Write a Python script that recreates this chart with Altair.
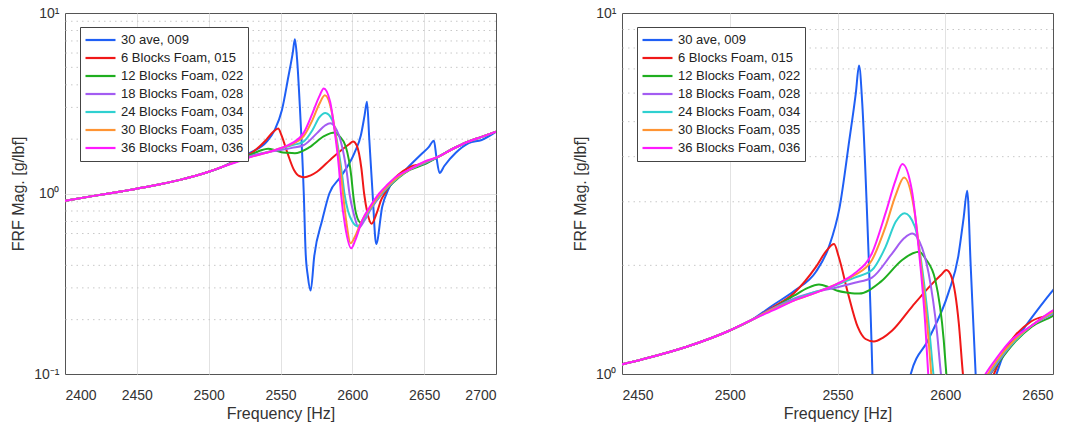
import altair as alt
import pandas as pd

SERIES = ["30 ave, 009", "6 Blocks Foam, 015", "12 Blocks Foam, 022",
          "18 Blocks Foam, 028", "24 Blocks Foam, 034", "30 Blocks Foam, 035",
          "36 Blocks Foam, 036"]
COLORS = ["#1f5ff5", "#f01818", "#1fae1f", "#a35cf2", "#2fd0d0", "#ff9433", "#ff1aff"]

# common low-frequency part (all curves overlap)
BASE_F = [2400, 2420, 2440, 2460, 2480, 2500, 2510]
BASE_V = [0.91, 0.97, 1.03, 1.10, 1.19, 1.32, 1.41]
# common high-frequency tail
TAIL_F = [2660, 2670, 2680, 2690, 2700]
TAIL_V = [1.60, 1.77, 1.93, 2.06, 2.20]

F_009 = [2520, 2530, 2540, 2546, 2551, 2555.5, 2558.5, 2560, 2561.5, 2563.5, 2566.2, 2567.5,
         2569, 2571, 2573.5, 2579, 2584, 2592, 2601.5, 2606, 2608.5, 2610.2, 2611.8, 2614.1,
         2616.6, 2620.8, 2625, 2637, 2648.7, 2653, 2656.8, 2658.5, 2660.7, 2664, 2672, 2681,
         2690, 2700]
V_009 = [1.55, 1.70, 1.92, 2.25, 2.9, 4.45, 6.0, 7.15, 5.6, 3.0, 1.0, 0.47,
         0.35, 0.29, 0.45, 0.71, 1.0, 1.24, 1.68, 2.11, 2.7, 3.22, 2.0, 1.0,
         0.525, 0.845, 1.05, 1.35, 1.67, 1.8, 1.96, 1.6, 1.30, 1.42, 1.68, 1.9,
         1.98, 2.2]

F_015 = [2520, 2530, 2540, 2545, 2548.4, 2550.5, 2554.8, 2559.4, 2563, 2566.9, 2571, 2575.4,
         2584.7, 2594, 2598, 2600.5, 2603, 2606.3, 2608.2, 2610.5, 2613.4, 2617, 2620, 2622.6,
         2627, 2632, 2640, 2650]
V_015 = [1.53, 1.68, 1.98, 2.2, 2.29, 2.12, 1.68, 1.35, 1.25, 1.23, 1.26, 1.32,
         1.54, 1.78, 1.88, 1.94, 1.85, 1.38, 1.0, 0.78, 0.68, 0.78, 0.92, 1.0,
         1.15, 1.27, 1.40, 1.47]

F_022 = [2520, 2530, 2536, 2541.4, 2546, 2550, 2555, 2560, 2570, 2580, 2585, 2587.8, 2591,
         2595.4, 2599.3, 2600.5, 2602.5, 2605.8, 2609, 2614, 2620, 2625, 2632, 2640, 2650]
V_022 = [1.52, 1.65, 1.73, 1.77, 1.74, 1.70, 1.68, 1.67, 1.80, 2.07, 2.16, 2.18, 2.08,
         1.82, 1.24, 1.0, 0.78, 0.69, 0.74, 0.86, 0.98, 1.08, 1.22, 1.35, 1.45]

F_028 = [2520, 2530, 2540, 2550, 2558, 2566, 2575.4, 2581, 2584.7, 2588, 2592.3, 2596.2,
         2598, 2601, 2604.5, 2608, 2613, 2619, 2625, 2632, 2640, 2650]
V_028 = [1.52, 1.62, 1.69, 1.74, 1.79, 1.85, 2.16, 2.38, 2.45, 2.33, 1.9, 1.3,
         1.0, 0.77, 0.645, 0.7, 0.82, 0.96, 1.09, 1.23, 1.36, 1.47]

F_034 = [2520, 2530, 2540, 2550, 2558, 2566, 2572.3, 2577, 2581.2, 2585.9, 2590.7, 2593,
         2594.5, 2597, 2600, 2603.4, 2607, 2612, 2618, 2624, 2632, 2640, 2650]
V_034 = [1.51, 1.61, 1.69, 1.77, 1.85, 1.94, 2.25, 2.64, 2.79, 2.56, 1.68, 1.25,
         1.0, 0.8, 0.7, 0.66, 0.7, 0.81, 0.95, 1.08, 1.23, 1.36, 1.48]

F_035 = [2520, 2530, 2540, 2550, 2558, 2566, 2572.3, 2577, 2580.9, 2585.4, 2589.2, 2592,
         2593.5, 2596, 2598.8, 2601.5, 2606, 2612, 2618, 2624, 2632, 2640, 2650]
V_035 = [1.51, 1.6, 1.68, 1.78, 1.88, 2.07, 2.56, 3.13, 3.5, 2.9, 1.9, 1.3,
         1.0, 0.68, 0.53, 0.57, 0.69, 0.82, 0.96, 1.09, 1.24, 1.36, 1.49]

F_036 = [2520, 2530, 2540, 2550, 2558, 2566, 2572.3, 2577, 2580.1, 2584.5, 2587.6, 2590.7,
         2592.1, 2595, 2599.3, 2602, 2606.9, 2612, 2618.7, 2624, 2630, 2640, 2650]
V_036 = [1.5, 1.6, 1.68, 1.78, 1.9, 2.16, 2.79, 3.45, 3.82, 3.23, 2.25, 1.38,
         1.0, 0.66, 0.497, 0.55, 0.71, 0.84, 1.0, 1.11, 1.23, 1.36, 1.5]

MINOR_Y = [0.2, 0.3, 0.4, 0.5, 0.6, 0.7, 0.8, 0.9, 2, 3, 4, 5, 6, 7, 8, 9]

rows = []
def add(name, fs, vs, tail=True):
    allf = BASE_F + fs + (TAIL_F if tail else [])
    allv = BASE_V + vs + (TAIL_V if tail else [])
    for f, v in zip(allf, allv):
        rows.append({"s": name, "f": f, "v": v})

add(SERIES[0], F_009, V_009, tail=False)
add(SERIES[1], F_015, V_015)
add(SERIES[2], F_022, V_022)
add(SERIES[3], F_028, V_028)
add(SERIES[4], F_034, V_034)
add(SERIES[5], F_035, V_035)
add(SERIES[6], F_036, V_036)
df = pd.DataFrame(rows)
df["o"] = df["s"].map({s: i for i, s in enumerate(SERIES)})
minor_df = pd.DataFrame({"m": MINOR_Y})

FONT = "Liberation Sans"
LABEL_EXPR = "datum.value == 10 ? '10¹' : (datum.value == 1 ? '10⁰' : '10⁻¹')"


def edge_hidden(lo, hi):
    return {"condition": {"test": f"datum.value == {lo} || datum.value == {hi}", "value": 0},
            "value": 1}


def panel(xdom, xvals, ydom, yvals):
    yscale = alt.Scale(type="log", domain=ydom, nice=False)
    yaxis = alt.Axis(values=yvals, labelExpr=LABEL_EXPR, title="FRF Mag. [g/lbf]",
                     grid=True, gridOpacity=edge_hidden(ydom[0], ydom[1]),
                     labelPadding=6, titlePadding=7)
    grid = alt.Chart(minor_df).mark_rule(
        clip=True, strokeDash=[1.5, 4], color="#c8c8c8", strokeWidth=1
    ).encode(y=alt.Y("m:Q", scale=yscale, axis=yaxis))
    lines = alt.Chart(df).mark_line(
        clip=True, strokeWidth=2, interpolate="monotone"
    ).encode(
        x=alt.X("f:Q", scale=alt.Scale(domain=xdom, nice=False, zero=False),
                axis=alt.Axis(values=xvals, title="Frequency [Hz]", grid=True,
                              gridOpacity=edge_hidden(xdom[0], xdom[1]),
                              format="d", labelPadding=14, titlePadding=3)),
        y=alt.Y("v:Q", scale=yscale, axis=yaxis),
        color=alt.Color("s:N", scale=alt.Scale(domain=SERIES, range=COLORS),
                        legend=alt.Legend(title=None, orient="none", legendX=15, legendY=14,
                                          symbolType="stroke", symbolSize=900,
                                          symbolStrokeWidth=2.2, labelFontSize=13,
                                          labelFont=FONT, labelColor="#222",
                                          strokeColor="#444", fillColor="white",
                                          padding=4, clipHeight=18, rowPadding=0,
                                          labelOffset=4, labelLimit=300)),
        order=alt.Order("o:Q"),
    )
    return alt.layer(grid, lines).properties(width=431, height=361)


left = panel([2400, 2700], [2400, 2450, 2500, 2550, 2600, 2650, 2700], [0.1, 10], [0.1, 1, 10])
right = panel([2450, 2650], [2450, 2500, 2550, 2600, 2650], [1, 10], [1, 10])

chart = alt.hconcat(left, right, spacing=126, bounds="flush").resolve_scale(
    color="independent"
).properties(
    padding={"left": 10, "top": 5, "right": 5, "bottom": 5},
).configure_view(stroke="#555", strokeWidth=1).configure_axis(
    domain=False, ticks=False, gridColor="#e2e2e2", gridWidth=1,
    labelFont=FONT, labelFontSize=14, labelColor="#333",
    titleFont=FONT, titleFontSize=16, titleFontWeight="normal", titleColor="#333",
)

chart.save("out.html", embed_options={"renderer": "svg", "actions": False})
